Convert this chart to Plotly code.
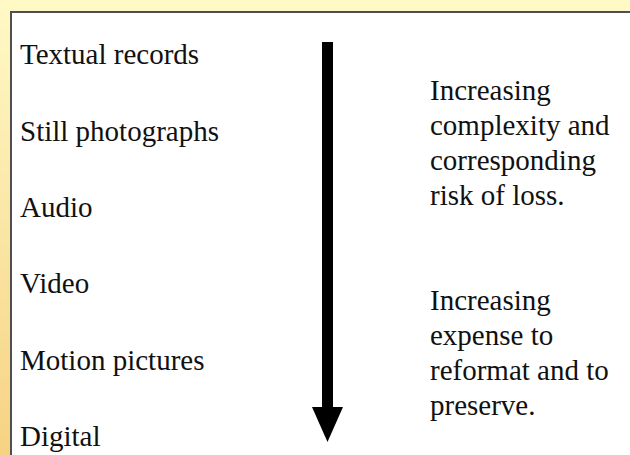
import plotly.graph_objects as go

# ---- content ----
formats = ["Textual records", "Still photographs", "Audio", "Video",
           "Motion pictures", "Digital"]
note_complexity = ["Increasing", "complexity and", "corresponding", "risk of loss."]
note_expense = ["Increasing", "expense to", "reformat and to", "preserve."]

# ---- layout (pixel coordinate system) ----
W, H = 630, 455
FONT = "Liberation Serif, Times New Roman, serif"
FS = 29
BASE_SHIFT = 7.8          # baseline offset from middle of text box

left_x, left_first, left_step = 18, 62, 76.4
right_x = 428
block1_first, block2_first, line_step = 98, 308, 35

top_col = (255, 249, 198)
bot_col = (246, 211, 132)

fig = go.Figure()

shapes = []
# gradient background
n = 91
for k in range(n):
    t = k / (n - 1)
    c = tuple(round(top_col[i] + (bot_col[i] - top_col[i]) * t) for i in range(3))
    shapes.append(dict(type="rect", xref="x", yref="y", x0=-5, x1=W + 5,
                       y0=k * H / n - 0.5, y1=(k + 1) * H / n + 0.5,
                       line=dict(width=0), fillcolor="rgb(%d,%d,%d)" % c,
                       layer="below"))
# white panel with border
shapes.append(dict(type="rect", xref="x", yref="y", x0=11, y0=12, x1=W + 50, y1=H + 50,
                   line=dict(width=2, color="#4f4f4f"), fillcolor="white", layer="below"))
# arrow
shapes.append(dict(type="rect", xref="x", yref="y", x0=322, x1=333, y0=42, y1=409,
                   line=dict(width=0), fillcolor="black"))
shapes.append(dict(type="path", xref="x", yref="y",
                   path="M 312,407 L 343,407 L 327.5,442 Z",
                   line=dict(width=0), fillcolor="black"))

annotations = []
for i, lab in enumerate(formats):
    annotations.append(dict(x=left_x, y=left_first + left_step * i - BASE_SHIFT,
                            xref="x", yref="y", text=lab, showarrow=False,
                            xanchor="left", yanchor="middle",
                            font=dict(family=FONT, size=FS, color="#111111")))
for first, lines in ((block1_first, note_complexity), (block2_first, note_expense)):
    for j, lab in enumerate(lines):
        annotations.append(dict(x=right_x, y=first + line_step * j - BASE_SHIFT,
                                xref="x", yref="y", text=lab, showarrow=False,
                                xanchor="left", yanchor="middle",
                                font=dict(family=FONT, size=FS, color="#111111")))

fig.update_layout(
    width=W, height=H, margin=dict(l=0, r=0, t=0, b=0),
    paper_bgcolor="white", plot_bgcolor="white",
    xaxis=dict(range=[0, W], visible=False, fixedrange=True),
    yaxis=dict(range=[H, 0], visible=False, fixedrange=True),
    shapes=shapes, annotations=annotations, showlegend=False,
)

fig.write_html("out.html",
               config={"displayModeBar": False},
               post_script="document.body.style.margin='0';document.body.style.overflow='hidden';")
